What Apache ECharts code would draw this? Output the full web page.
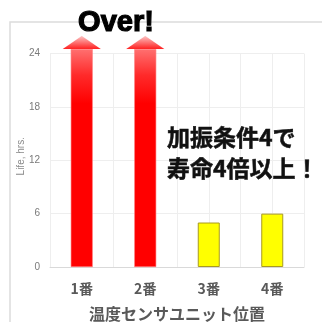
<!DOCTYPE html>
<html><head><meta charset="utf-8">
<script src="https://cdn.jsdelivr.net/npm/echarts@6/dist/echarts.min.js"></script>
<style>html,body{margin:0;padding:0;background:#fff}#c{width:322px;height:322px}</style>
</head><body><div id="c"></div>
<script>
const categories = ['1番', '2番', '3番', '4番'];
const lifeHours = [24.5, 24.5, 5, 6];           // red bars run past the axis ("Over!")
const overArrowTips = [26, 26, null, null];     // arrow heads on the over-range bars
const yTicks = [0, 6, 12, 18, 24];
const gridSlots = [0, 8];

const chart = echarts.init(document.getElementById('c'), null, {renderer: 'canvas'});
const redGrad = new echarts.graphic.LinearGradient(0, 0, 0, 1, [
  {offset: 0, color: '#ff7070'}, {offset: 0.12, color: '#ff2a2a'}, {offset: 0.25, color: '#ff0000'}, {offset: 1, color: '#ff0000'}
]);
const headGrad = new echarts.graphic.LinearGradient(0, 0, 0, 1, [
  {offset: 0, color: '#fcc4c4'}, {offset: 1, color: '#ff2020'}
]);
chart.setOption({
  animation: false,
  graphic: [
    {type: 'rect', shape: {x: 10, y: 22, width: 340, height: 340}, style: {fill: 'none', stroke: '#dcdcdc', lineWidth: 1.5}, z: 0},
    {type: 'text', x: 116, y: 23, style: {text: 'Over!', font: 'bold 29px "Liberation Sans"', fill: '#000', stroke: '#000', lineWidth: 1.2, textAlign: 'center', textVerticalAlign: 'middle'}, z: 100},
    {type: 'text', x: 167, y: 137, style: {text: '加振条件4で', font: 'bold 23px "Noto Sans CJK JP"', fill: '#111', stroke: '#111', lineWidth: 0.5, textAlign: 'left', textVerticalAlign: 'middle'}, z: 100},
    {type: 'text', x: 167, y: 168, style: {text: '寿命4倍以上！', font: 'bold 23px "Noto Sans CJK JP"', fill: '#111', stroke: '#111', lineWidth: 0.5, textAlign: 'left', textVerticalAlign: 'middle'}, z: 100}
  ],
  grid: {left: 50, right: 18, top: 53.5, bottom: 55, outerBoundsMode: 'none', containLabel: false},
  xAxis: [
    {type: 'category', data: categories,
     axisLine: {lineStyle: {color: '#d9d9d9'}}, axisTick: {show: false},
     axisLabel: {color: '#595959', fontSize: 14, fontWeight: 'bold', fontFamily: '"Noto Sans CJK JP"', margin: 15},
     name: '温度センサユニット位置', nameLocation: 'middle', nameGap: 39, nameMoveOverlap: false,
     nameTextStyle: {color: '#595959', fontSize: 16, fontWeight: 'bold', fontFamily: '"Noto Sans CJK JP"'}},
    {type: 'value', min: gridSlots[0], max: gridSlots[1], interval: 1, position: 'bottom',
     axisLine: {show: false}, axisTick: {show: false}, axisLabel: {show: false},
     splitLine: {show: true, lineStyle: {color: '#eeeeee', width: 1}}}
  ],
  yAxis: {type: 'value', min: yTicks[0], max: yTicks[yTicks.length - 1], interval: 6,
    axisLine: {show: false}, axisTick: {show: false},
    axisLabel: {color: '#7a7a7a', fontSize: 10, fontFamily: '"Liberation Sans"', margin: 10},
    splitLine: {lineStyle: {color: '#eeeeee', width: 1}},
    name: 'Life, hrs.', nameLocation: 'middle', nameGap: 24, nameMoveOverlap: false,
    nameTextStyle: {color: '#8a8a8a', fontSize: 10, fontFamily: '"Liberation Sans"', padding: [0, 0, 0, 8]}},
  series: [
    {type: 'bar', xAxisIndex: 0, barWidth: 22, clip: false, z: 5,
     data: lifeHours.map((v, i) => ({value: v, itemStyle: i < 2
       ? {color: redGrad, borderColor: '#ff8080', borderWidth: 0.6}
       : {color: '#ffff00', borderColor: '#a89a20', borderWidth: 1}}))},
    {type: 'pictorialBar', xAxisIndex: 0, clip: false, z: 6, symbol: 'triangle',
     symbolSize: [38, 13], symbolPosition: 'end',
     itemStyle: {color: headGrad, borderColor: '#f06060', borderWidth: 1},
     data: overArrowTips}
  ]
});
</script></body></html>
